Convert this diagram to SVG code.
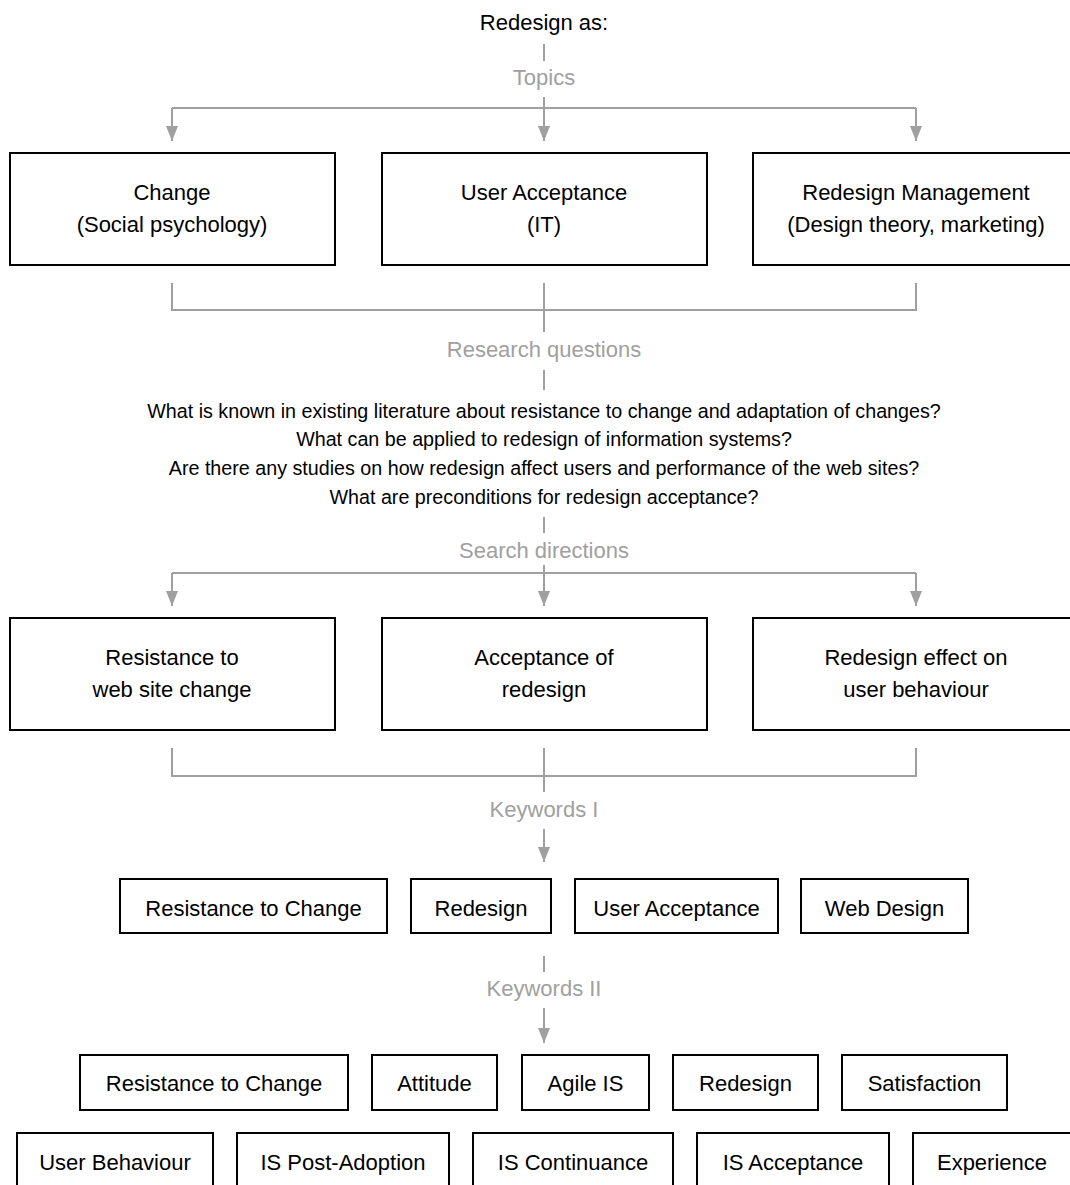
<svg xmlns="http://www.w3.org/2000/svg" width="1070" height="1185" viewBox="0 0 1070 1185">
<style>
text{font-family:"Liberation Sans",Arial,sans-serif;font-size:22px;text-anchor:middle;fill:#000}
.g{fill:#a0a0a0}
.q{font-size:19.7px}
.box{fill:#fff;stroke:#000;stroke-width:2}
.ln{fill:none;stroke:#a0a0a0;stroke-width:2}
</style>
<defs>
<marker id="ah" viewBox="0 0 15 12" refX="15" refY="6" markerWidth="15" markerHeight="12" markerUnits="userSpaceOnUse" orient="auto">
<path d="M0,0 L15,6 L0,12 Z" fill="#a0a0a0"/>
</marker>
</defs>
<g id="connectors">
<line class="ln" x1="544" y1="44" x2="544" y2="61"/>
<line class="ln" x1="544" y1="97" x2="544" y2="108"/>
<line class="ln" x1="172" y1="108" x2="916" y2="108"/>
<path class="ln" d="M172,108 V141" marker-end="url(#ah)"/>
<path class="ln" d="M544,108 V141" marker-end="url(#ah)"/>
<path class="ln" d="M916,108 V141" marker-end="url(#ah)"/>
<path class="ln" d="M172,283 V310 H916 V283"/>
<line class="ln" x1="544" y1="283" x2="544" y2="332"/>
<line class="ln" x1="544" y1="370" x2="544" y2="390"/>
<line class="ln" x1="544" y1="517" x2="544" y2="533"/>
<line class="ln" x1="544" y1="565" x2="544" y2="573"/>
<line class="ln" x1="172" y1="573" x2="916" y2="573"/>
<path class="ln" d="M172,573 V606" marker-end="url(#ah)"/>
<path class="ln" d="M544,573 V606" marker-end="url(#ah)"/>
<path class="ln" d="M916,573 V606" marker-end="url(#ah)"/>
<path class="ln" d="M172,748 V776 H916 V748"/>
<line class="ln" x1="544" y1="748" x2="544" y2="792"/>
<path class="ln" d="M544,829 V862" marker-end="url(#ah)"/>
<line class="ln" x1="544" y1="956" x2="544" y2="972"/>
<path class="ln" d="M544,1008 V1043" marker-end="url(#ah)"/>
</g>
<g id="labels">
<text x="544" y="30">Redesign as:</text>
<text class="g" x="544" y="85">Topics</text>
<text class="g" x="544" y="357">Research questions</text>
<text class="q" x="544" y="418">What is known in existing literature about resistance to change and adaptation of changes?</text>
<text class="q" x="544" y="446">What can be applied to redesign of information systems?</text>
<text class="q" x="544" y="475">Are there any studies on how redesign affect users and performance of the web sites?</text>
<text class="q" x="544" y="504">What are preconditions for redesign acceptance?</text>
<text class="g" x="544" y="558">Search directions</text>
<text class="g" x="544" y="817">Keywords I</text>
<text class="g" x="544" y="996">Keywords II</text>
</g>
<g id="topic-change"><rect class="box" x="10" y="153" width="325" height="112"/><text x="172" y="200">Change</text><text x="172" y="232">(Social psychology)</text></g>
<g id="topic-useracc"><rect class="box" x="382" y="153" width="325" height="112"/><text x="544" y="200">User Acceptance</text><text x="544" y="232">(IT)</text></g>
<g id="topic-redesign"><rect class="box" x="753" y="153" width="325" height="112"/><text x="916" y="200">Redesign Management</text><text x="916" y="232">(Design theory, marketing)</text></g>
<g id="dir-resistance"><rect class="box" x="10" y="618" width="325" height="112"/><text x="172" y="665">Resistance to</text><text x="172" y="697">web site change</text></g>
<g id="dir-acceptance"><rect class="box" x="382" y="618" width="325" height="112"/><text x="544" y="665">Acceptance of</text><text x="544" y="697">redesign</text></g>
<g id="dir-effect"><rect class="box" x="753" y="618" width="325" height="112"/><text x="916" y="665">Redesign effect on</text><text x="916" y="697">user behaviour</text></g>
<g id="k1-resistance"><rect class="box" x="120" y="879" width="267" height="54"/><text x="253.5" y="916">Resistance to Change</text></g>
<g id="k1-redesign"><rect class="box" x="411" y="879" width="140" height="54"/><text x="481" y="916">Redesign</text></g>
<g id="k1-useracc"><rect class="box" x="575" y="879" width="203" height="54"/><text x="676.5" y="916">User Acceptance</text></g>
<g id="k1-webdesign"><rect class="box" x="801" y="879" width="167" height="54"/><text x="884.5" y="916">Web Design</text></g>
<g id="k2-resistance"><rect class="box" x="80" y="1055" width="268" height="55"/><text x="214" y="1091">Resistance to Change</text></g>
<g id="k2-attitude"><rect class="box" x="372" y="1055" width="125" height="55"/><text x="434.5" y="1091">Attitude</text></g>
<g id="k2-agile"><rect class="box" x="522" y="1055" width="127" height="55"/><text x="585.5" y="1091">Agile IS</text></g>
<g id="k2-redesign"><rect class="box" x="673" y="1055" width="145" height="55"/><text x="745.5" y="1091">Redesign</text></g>
<g id="k2-satisfaction"><rect class="box" x="842" y="1055" width="165" height="55"/><text x="924.5" y="1091">Satisfaction</text></g>
<g id="k3-userbeh"><rect class="box" x="17" y="1133" width="196" height="60"/><text x="115" y="1170">User Behaviour</text></g>
<g id="k3-postadopt"><rect class="box" x="237" y="1133" width="212" height="60"/><text x="343" y="1170">IS Post-Adoption</text></g>
<g id="k3-continuance"><rect class="box" x="473" y="1133" width="200" height="60"/><text x="573" y="1170">IS Continuance</text></g>
<g id="k3-isacc"><rect class="box" x="697" y="1133" width="192" height="60"/><text x="793" y="1170">IS Acceptance</text></g>
<g id="k3-experience"><rect class="box" x="913" y="1133" width="170" height="60"/><text x="992" y="1170">Experience</text></g>
</svg>
